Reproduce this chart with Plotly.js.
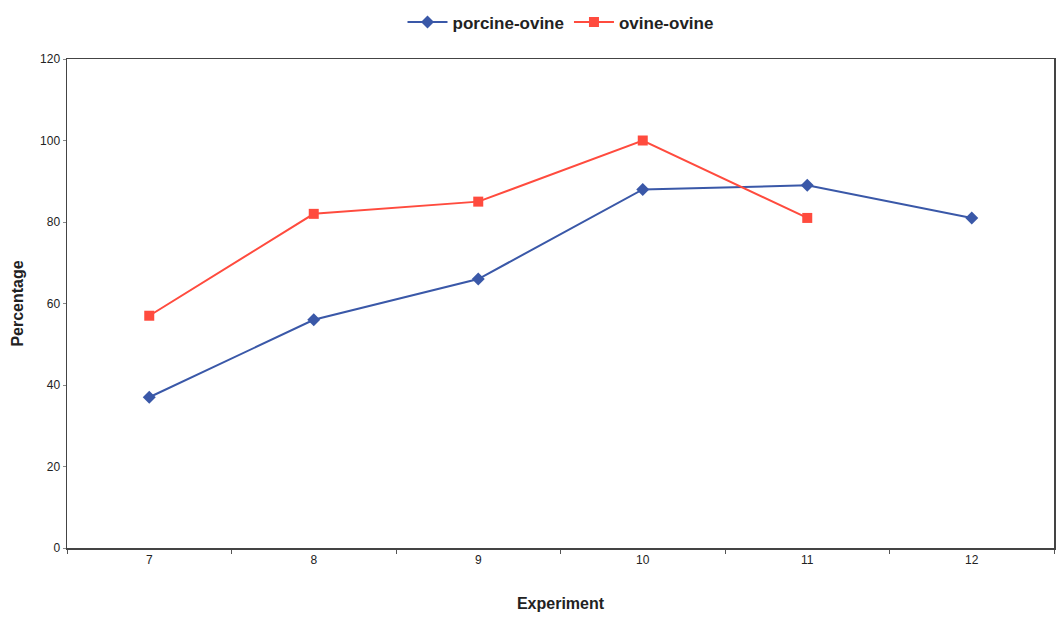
<!DOCTYPE html>
<html>
<head>
<meta charset="utf-8">
<script src="https://cdn.plot.ly/plotly-3.0.1.min.js"></script>
<style>html,body{margin:0;padding:0;background:#fff;}#chart{width:1058px;height:620px;}</style>
</head>
<body>
<div id="chart"></div>
<script>
const experiments = ['7', '8', '9', '10', '11', '12'];
const porcineOvine = [37, 56, 66, 88, 89, 81];
const ovineOvine = [57, 82, 85, 100, 81, null];
const seriesNames = ['porcine-ovine', 'ovine-ovine'];

const traces = [
  {
    x: experiments, y: porcineOvine, name: seriesNames[0], type: 'scatter', mode: 'lines+markers',
    line: {color: '#3a58a8', width: 2},
    marker: {symbol: 'diamond', size: 10, color: '#3a58a8'}
  },
  {
    x: experiments, y: ovineOvine, name: seriesNames[1], type: 'scatter', mode: 'lines+markers',
    line: {color: '#ff4b3e', width: 2},
    marker: {symbol: 'square', size: 10, color: '#ff4b3e'}
  }
];

const layout = {
  width: 1058, height: 620,
  margin: {l: 67, r: 4, t: 52, b: 72},
  paper_bgcolor: '#fff', plot_bgcolor: '#fff',
  font: {family: 'Liberation Sans, Arial, sans-serif', color: '#222'},
  showlegend: true,
  legend: {orientation: 'h', x: 0.5, xanchor: 'center', y: 1.075, yanchor: 'middle',
           font: {size: 17, color: '#222', weight: 'bold'}, itemwidth: 40, tracegroupgap: 0},
  xaxis: {
    type: 'category', range: [-0.5, 5.5], tickson: 'boundaries',
    ticks: 'outside', ticklen: 4, tickcolor: '#555',
    showgrid: false, zeroline: false,
    showline: true, linecolor: '#444', linewidth: 1.5, mirror: true,
    tickfont: {size: 12, color: '#222'},
    title: {text: '<b>Experiment</b>', font: {size: 16, color: '#222'}, standoff: 32}
  },
  yaxis: {
    range: [0, 120], dtick: 20, ticks: 'outside', ticklen: 3, tickcolor: '#888',
    showgrid: false, zeroline: false,
    showline: true, linecolor: '#444', linewidth: 1.5, mirror: true,
    tickfont: {size: 12, color: '#222'},
    title: {text: '<b>Percentage</b>', font: {size: 16, color: '#222'}, standoff: 12}
  }
};

Plotly.newPlot('chart', traces, layout, {displayModeBar: false, staticPlot: true});
</script>
</body>
</html>
